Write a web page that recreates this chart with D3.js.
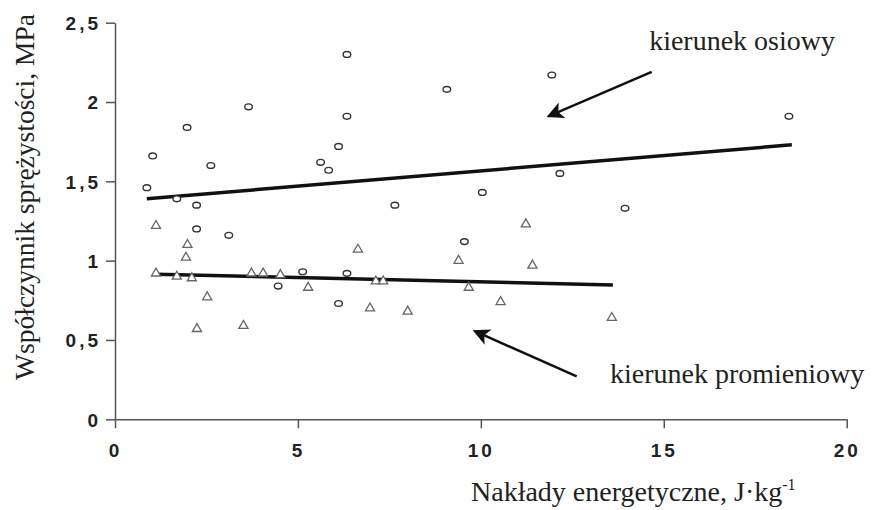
<!DOCTYPE html>
<html>
<head>
<meta charset="utf-8">
<script src="https://cdn.jsdelivr.net/npm/d3@7"></script>
<style>
  body { margin: 0; background: #fff; }
  .tick text { font-family: "Liberation Sans", Arial, sans-serif; font-weight: bold; font-size: 19px; fill: #222; letter-spacing: 3px; }
  .serif { font-family: "Liberation Serif", "Times New Roman", serif; fill: #222; }
</style>
</head>
<body>
<svg id="chart" width="875" height="510"></svg>
<script>
// kierunek osiowy (circles)
const osiowyX = [0.87, 1.03, 1.69, 1.97, 2.23, 2.23, 2.62, 3.11, 3.65, 4.46, 5.13, 5.62, 5.84,
                 6.11, 6.11, 6.34, 6.34, 6.34, 7.65, 9.07, 9.55, 10.04, 11.94, 12.16, 13.94, 18.42];
const osiowyY = [1.46, 1.66, 1.39, 1.84, 1.35, 1.20, 1.60, 1.16, 1.97, 0.84, 0.93, 1.62, 1.57,
                 1.72, 0.73, 2.30, 1.91, 0.92, 1.35, 2.08, 1.12, 1.43, 2.17, 1.55, 1.33, 1.91];

// kierunek promieniowy (triangles)
const promX = [1.12, 1.12, 1.69, 1.94, 1.98, 2.10, 2.24, 2.52, 3.51, 3.73, 4.05, 4.52, 5.28,
               6.64, 6.97, 7.13, 7.33, 8.00, 9.39, 9.67, 10.54, 11.23, 11.41, 13.58];
const promY = [1.22, 0.92, 0.90, 1.02, 1.10, 0.89, 0.57, 0.77, 0.59, 0.92, 0.92, 0.91, 0.83,
               1.07, 0.70, 0.87, 0.87, 0.68, 1.00, 0.83, 0.74, 1.23, 0.97, 0.64];

// trend lines (end points)
const trendOsiowyX = [0.87, 18.5];
const trendOsiowyY = [1.39, 1.73];
const trendPromX = [1.12, 13.61];
const trendPromY = [0.915, 0.847];

const xTicks = [0, 5, 10, 15, 20];
const yTicks = [0, 0.5, 1, 1.5, 2, 2.5];

const labelOsiowy = "kierunek osiowy";
const labelProm = "kierunek promieniowy";
const xTitle = "Nakłady energetyczne, J·kg";
const yTitle = "Współczynnik sprężystości, MPa";

const svg = d3.select('#chart');

const x = d3.scaleLinear().domain([0, 20]).range([115, 846.7]);
const y = d3.scaleLinear().domain([0, 2.5]).range([419.3, 22.7]);

const fmt = d => String(d).replace('.', ',');

// axes
const gx = svg.append('g')
    .attr('transform', 'translate(0,' + y(0) + ')')
    .call(d3.axisBottom(x).tickValues(xTicks).tickFormat(fmt).tickSize(9).tickSizeOuter(0).tickPadding(15));
const gy = svg.append('g')
    .attr('transform', 'translate(' + x(0) + ',0)')
    .call(d3.axisLeft(y).tickValues(yTicks).tickFormat(fmt).tickSize(9).tickSizeOuter(0).tickPadding(5));

[gx, gy].forEach(g => {
    g.select('.domain').attr('stroke', '#555').attr('stroke-width', 1.5);
    g.selectAll('.tick line').attr('stroke', '#555').attr('stroke-width', 1.5);
});
gy.selectAll('.tick text').attr('dy', '0.36em');

// trend lines
const line = d3.line().x(d => x(d[0])).y(d => y(d[1]));
svg.append('path')
    .datum(d3.zip(trendOsiowyX, trendOsiowyY))
    .attr('d', line).attr('fill', 'none').attr('stroke', '#111').attr('stroke-width', 3.5);
svg.append('path')
    .datum(d3.zip(trendPromX, trendPromY))
    .attr('d', line).attr('fill', 'none').attr('stroke', '#111').attr('stroke-width', 3.5);

// triangles
const tri = d3.symbol().type(d3.symbolTriangle).size(36);
svg.append('g').selectAll('path')
    .data(d3.zip(promX, promY))
    .join('path')
    .attr('d', tri)
    .attr('transform', d => 'translate(' + x(d[0]) + ',' + y(d[1]) + ')')
    .attr('fill', '#fff')
    .attr('stroke', '#666')
    .attr('stroke-width', 1.3);

// circles
svg.append('g').selectAll('ellipse')
    .data(d3.zip(osiowyX, osiowyY))
    .join('ellipse')
    .attr('cx', d => x(d[0]))
    .attr('cy', d => y(d[1]))
    .attr('rx', 3.8)
    .attr('ry', 2.9)
    .attr('fill', '#fff')
    .attr('stroke', '#333')
    .attr('stroke-width', 1.4);

// arrows
const defs = svg.append('defs');
defs.append('marker')
    .attr('id', 'head')
    .attr('viewBox', '0 0 10 10')
    .attr('refX', 9).attr('refY', 5)
    .attr('markerWidth', 9).attr('markerHeight', 7)
    .attr('markerUnits', 'strokeWidth')
    .attr('orient', 'auto')
    .append('path')
    .attr('d', 'M0,0 L10,5 L0,10 L2.5,5 Z')
    .attr('fill', '#111');

function arrow(x1, y1, x2, y2) {
    svg.append('line')
        .attr('x1', x(x1)).attr('y1', y(y1))
        .attr('x2', x(x2)).attr('y2', y(y2))
        .attr('stroke', '#111')
        .attr('stroke-width', 2.4)
        .attr('marker-end', 'url(#head)');
}
arrow(14.67, 2.19, 11.84, 1.91);
arrow(12.62, 0.27, 9.82, 0.557);

// annotations
svg.append('text').attr('class', 'serif')
    .attr('x', x(14.6)).attr('y', y(2.33))
    .style('font-size', '28px')
    .text(labelOsiowy);
svg.append('text').attr('class', 'serif')
    .attr('x', x(13.53)).attr('y', y(0.229))
    .style('font-size', '28px')
    .text(labelProm);

// axis titles
const xt = svg.append('text').attr('class', 'serif')
    .attr('x', 471).attr('y', 501)
    .style('font-size', '28px')
    .text(xTitle);
xt.append('tspan')
    .attr('dy', -11)
    .style('font-size', '16px')
    .text('-1');

svg.append('text').attr('class', 'serif')
    .attr('transform', 'translate(34,197) rotate(-90)')
    .attr('text-anchor', 'middle')
    .style('font-size', '27.5px')
    .text(yTitle);
</script>
</body>
</html>
